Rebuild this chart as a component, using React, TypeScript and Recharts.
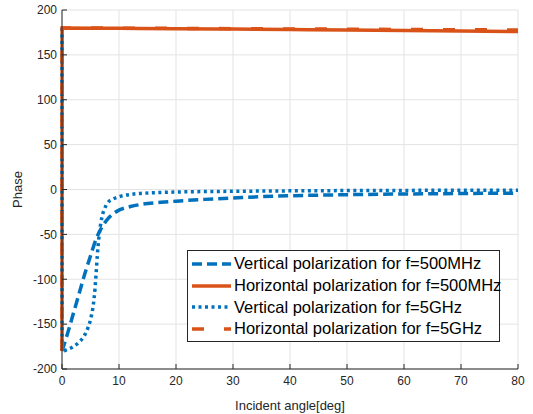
import { LineChart, Line, XAxis, YAxis, CartesianGrid, Legend } from "recharts";

// vertical polarization, f=500MHz
const angleV500 = [0, 1, 2, 3, 4, 5, 6, 7, 8, 9, 10, 12, 14, 16, 18, 20, 25, 30, 35, 40, 50, 60, 70, 80];
const phaseV500 = [-180, -160, -138, -116, -94, -74, -55, -42, -33, -27, -23, -19, -16.5, -15, -14, -13, -11, -9.5, -8, -7, -5.8, -5, -4.5, -4];

// vertical polarization, f=5GHz
const angleV5 = [0, 0.02, 1, 2, 3, 4, 4.5, 5, 5.5, 5.8, 6, 6.2, 6.5, 7, 7.5, 8, 9, 10, 12, 14, 16, 20, 25, 30, 40, 50, 60, 70, 80];
const phaseV5 = [180, -180, -178, -175, -170, -162, -155, -145, -128, -110, -92, -73, -52, -31, -21, -15, -10.5, -8, -5.5, -4.3, -3.6, -2.8, -2.3, -2, -1.5, -1.2, -1, -0.9, -0.8];

// horizontal polarization
const angleH = [0, 0.02, 10, 20, 30, 40, 50, 60, 70, 80];
const phaseH500 = [-180, 180, 179.6, 179.2, 178.7, 178.2, 177.7, 177.1, 176.6, 176];
const phaseH5 = [-180, 180, 179.8, 179.5, 179.2, 178.9, 178.6, 178.3, 178, 177.7];

const xTicks = [0, 10, 20, 30, 40, 50, 60, 70, 80];
const yTicks = [-200, -150, -100, -50, 0, 50, 100, 150, 200];

const BLUE = "#0072BD";
const ORANGE = "#D95319";
const AXIS = "#262626";

const toPoints = (xs: number[], ys: number[]) => xs.map((x, i) => ({ x, y: ys[i] }));

const series = [
  { name: "Vertical polarization for f=500MHz", color: BLUE, dash: "10 5", data: toPoints(angleV500, phaseV500) },
  { name: "Horizontal polarization for f=500MHz", color: ORANGE, dash: undefined, data: toPoints(angleH, phaseH500) },
  { name: "Vertical polarization for f=5GHz", color: BLUE, dash: "3 3.5", data: toPoints(angleV5, phaseV5) },
  { name: "Horizontal polarization for f=5GHz", color: ORANGE, dash: "12 20", data: toPoints(angleH, phaseH5) },
];

function LegendBox() {
  return (
    <div
      style={{
        border: `1px solid ${AXIS}`,
        background: "#fff",
        width: 311,
        height: 88,
        paddingTop: 2,
        boxSizing: "content-box",
        fontFamily: "'Liberation Sans', Arial, sans-serif",
        fontSize: 16.5,
        color: "#000",
      }}
    >
      {series.map((s) => (
        <div key={s.name} style={{ display: "flex", alignItems: "center", height: 21.7, whiteSpace: "nowrap" }}>
          <svg width={46} height={10} style={{ flex: "none" }}>
            <line x1={4} y1={5} x2={43} y2={5} stroke={s.color} strokeWidth={3.5} strokeDasharray={s.dash} />
          </svg>
          <span>{s.name}</span>
        </div>
      ))}
    </div>
  );
}

export default function App() {
  return (
    <div style={{ position: "absolute", left: 0, top: 0, width: 533, height: 414, background: "#fff" }}>
      <LineChart
        width={533}
        height={414}
        margin={{ top: 10, right: 15, left: 0, bottom: 0 }}
        style={{ fontFamily: "'Liberation Sans', Arial, sans-serif" }}
      >
        <CartesianGrid stroke="#e3e3e3" strokeWidth={1} horizontalValues={yTicks} verticalValues={xTicks} />
        <XAxis
          type="number"
          dataKey="x"
          domain={[0, 80]}
          ticks={xTicks}
          height={45}
          tickSize={-5}
          tickMargin={12}
          axisLine={{ stroke: AXIS }}
          tickLine={{ stroke: AXIS }}
          tick={{ fill: AXIS, fontSize: 12 }}
          label={{ value: "Incident angle[deg]", position: "insideBottom", offset: 4, fill: AXIS, fontSize: 13 }}
        />
        <XAxis
          xAxisId="top"
          orientation="top"
          type="number"
          domain={[0, 80]}
          ticks={xTicks}
          height={0}
          tickSize={-5}
          tick={false}
          axisLine={{ stroke: AXIS }}
          tickLine={{ stroke: AXIS }}
        />
        <YAxis
          type="number"
          domain={[-200, 200]}
          ticks={yTicks}
          width={62}
          tickSize={-5}
          tickMargin={10}
          axisLine={{ stroke: AXIS }}
          tickLine={{ stroke: AXIS }}
          tick={{ fill: AXIS, fontSize: 12 }}
          label={{ value: "Phase", angle: -90, position: "insideLeft", offset: 17, fill: AXIS, fontSize: 13, style: { textAnchor: "middle" } }}
        />
        <YAxis
          yAxisId="right"
          orientation="right"
          type="number"
          domain={[-200, 200]}
          ticks={yTicks}
          width={0}
          tickSize={-5}
          tick={false}
          axisLine={{ stroke: AXIS }}
          tickLine={{ stroke: AXIS }}
        />
        {series.map((s) => (
          <Line
            key={s.name}
            data={s.data}
            dataKey="y"
            name={s.name}
            type="monotone"
            stroke={s.color}
            strokeWidth={3.5}
            strokeDasharray={s.dash}
            dot={false}
            activeDot={false}
            isAnimationActive={false}
          />
        ))}
        <Legend
          layout="vertical"
          align="center"
          verticalAlign="middle"
          content={<LegendBox />}
          wrapperStyle={{ left: 187, top: 250, width: 313, height: 91 }}
        />
      </LineChart>
    </div>
  );
}
